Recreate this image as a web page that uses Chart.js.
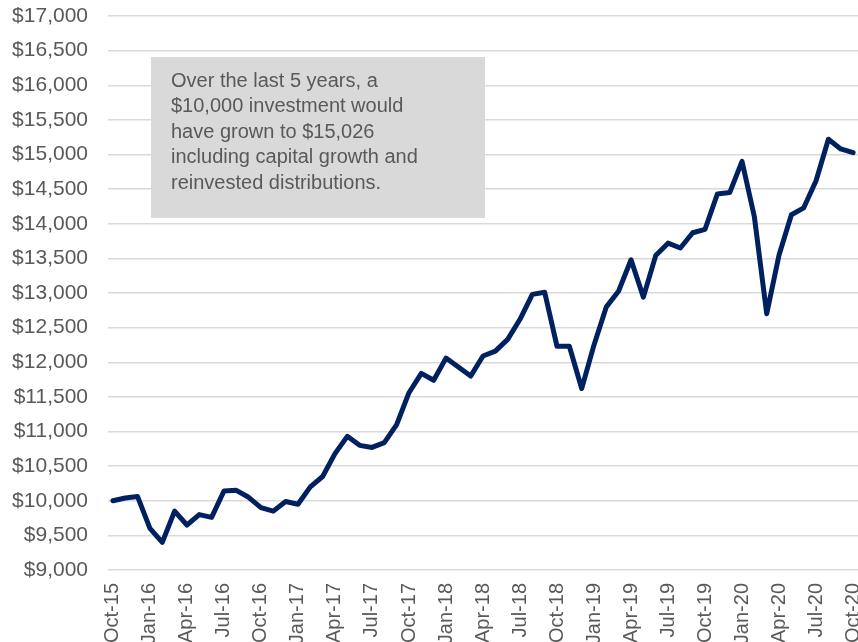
<!DOCTYPE html>
<html>
<head>
<meta charset="utf-8">
<script src="https://cdn.jsdelivr.net/npm/chart.js@4"></script>
<style>
    html, body { margin: 0; padding: 0; background: #ffffff; }
    #wrap { width: 858px; height: 642px; position: relative; }
</style>
</head>
<body>
<div id="wrap"><canvas id="growthChart"></canvas></div>
<script>
// Monthly labels, Oct-15 .. Oct-20
const monthLabels = [
    'Oct-15', 'Nov-15', 'Dec-15', 'Jan-16', 'Feb-16', 'Mar-16', 'Apr-16', 'May-16', 'Jun-16', 'Jul-16', 'Aug-16', 'Sep-16',
    'Oct-16', 'Nov-16', 'Dec-16', 'Jan-17', 'Feb-17', 'Mar-17', 'Apr-17', 'May-17', 'Jun-17', 'Jul-17', 'Aug-17', 'Sep-17',
    'Oct-17', 'Nov-17', 'Dec-17', 'Jan-18', 'Feb-18', 'Mar-18', 'Apr-18', 'May-18', 'Jun-18', 'Jul-18', 'Aug-18', 'Sep-18',
    'Oct-18', 'Nov-18', 'Dec-18', 'Jan-19', 'Feb-19', 'Mar-19', 'Apr-19', 'May-19', 'Jun-19', 'Jul-19', 'Aug-19', 'Sep-19',
    'Oct-19', 'Nov-19', 'Dec-19', 'Jan-20', 'Feb-20', 'Mar-20', 'Apr-20', 'May-20', 'Jun-20', 'Jul-20', 'Aug-20', 'Sep-20',
    'Oct-20'
];

// Value of a $10,000 investment
const investmentValue = [
    10000, 10040, 10060, 9600, 9400, 9850, 9650, 9800, 9760, 10140, 10150, 10050,
    9900, 9850, 9990, 9950, 10200, 10350, 10680, 10930, 10800, 10770, 10840, 11100,
    11560, 11840, 11740, 12060, 11930, 11800, 12090, 12160, 12330, 12620, 12980, 13010,
    12230, 12230, 11620, 12250, 12800, 13030, 13480, 12940, 13540, 13720, 13650, 13870,
    13920, 14430, 14450, 14900, 14100, 12700, 13550, 14130, 14230, 14620, 15220, 15080,
    15026
];

// Every third month gets a label
const tickMonths = [0, 3, 6, 9, 12, 15, 18, 21, 24, 27, 30, 33, 36, 39, 42, 45, 48, 51, 54, 57, 60];

const yMin = 9000;
const yMax = 17000;
const yStep = 500;

const noteLines = [
    'Over the last 5 years, a',
    '$10,000 investment would',
    'have grown to $15,026',
    'including capital growth and',
    'reinvested distributions.'
];

const textGrey = '#595959';
const fontFamily = '"Liberation Sans", Arial, sans-serif';

// gray note box in the top left of the plot
const noteBoxPlugin = {
    id: 'noteBox',
    beforeDatasetsDraw(chart) {
        const ctx = chart.ctx;
        ctx.save();
        ctx.fillStyle = '#d9d9d9';
        ctx.fillRect(151, 57, 334, 161);
        ctx.fillStyle = textGrey;
        ctx.font = '20px ' + fontFamily;
        ctx.textBaseline = 'middle';
        ctx.textAlign = 'left';
        noteLines.forEach((line, i) => {
            ctx.fillText(line, 171, 81 + i * 25.6);
        });
        ctx.restore();
    }
};

const points = investmentValue.map((v, i) => ({ x: i, y: v }));

new Chart(document.getElementById('growthChart'), {
    type: 'line',
    data: {
        datasets: [{
            data: points,
            borderColor: '#002060',
            borderWidth: 5,
            pointRadius: 0,
            tension: 0,
            borderJoinStyle: 'round',
            borderCapStyle: 'round',
            fill: false
        }]
    },
    options: {
        responsive: true,
        maintainAspectRatio: false,
        animation: false,
        layout: { padding: { top: 16, left: 0, right: 0, bottom: 0 } },
        plugins: {
            legend: { display: false },
            tooltip: { enabled: false }
        },
        scales: {
            x: {
                type: 'linear',
                min: -0.4,
                max: 60.4,
                grid: { display: false, drawTicks: false },
                border: { display: false },
                afterBuildTicks(scale) {
                    scale.ticks = tickMonths.map(v => ({ value: v }));
                },
                afterFit(scale) {
                    scale.height = 72;
                    scale.paddingLeft = 0;
                    scale.paddingRight = 0;
                },
                ticks: {
                    autoSkip: false,
                    minRotation: 90,
                    maxRotation: 90,
                    padding: 13,
                    color: textGrey,
                    font: { family: fontFamily, size: 20 },
                    callback: value => monthLabels[value]
                }
            },
            y: {
                min: yMin,
                max: yMax,
                grid: { color: '#d9d9d9', lineWidth: 1.5, drawTicks: false },
                border: { display: false },
                afterFit(scale) {
                    scale.width = 108;
                    scale.paddingTop = 0;
                    scale.paddingBottom = 0;
                },
                ticks: {
                    stepSize: yStep,
                    padding: 20,
                    color: textGrey,
                    font: { family: fontFamily, size: 21 },
                    callback: value => '$' + value.toLocaleString('en-US')
                }
            }
        }
    },
    plugins: [noteBoxPlugin]
});
</script>
</body>
</html>
